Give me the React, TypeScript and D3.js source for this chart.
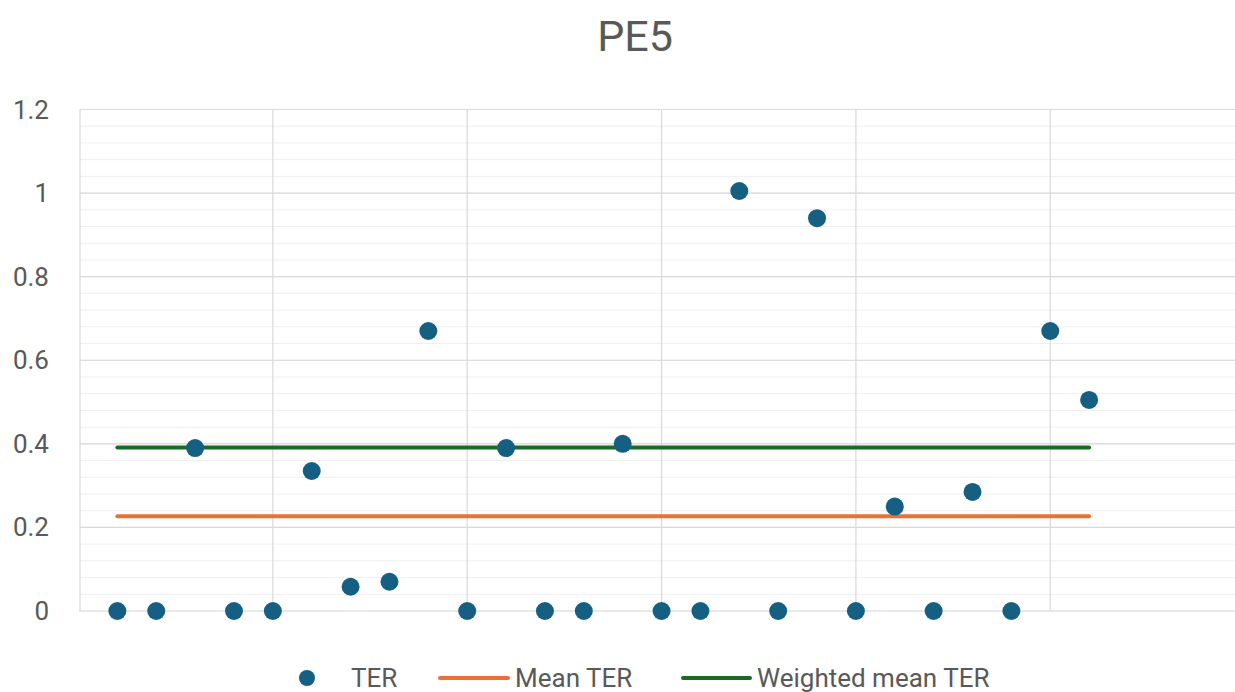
import React from "react";
import * as d3 from "d3";

const xValues = [1, 2, 3, 4, 5, 6, 7, 8, 9, 10, 11, 12, 13, 14, 15, 16, 17, 18, 19, 20, 21, 22, 23, 24, 25, 26];
const terValues = [0, 0, 0.39, 0, 0, 0.335, 0.058, 0.07, 0.67, 0, 0.39, 0, 0, 0.4, 0, 0, 1.005, 0, 0.94, 0, 0.25, 0, 0.285, 0, 0.67, 0.505];
const meanTER = 0.227;
const weightedMeanTER = 0.391;
const yTicks = [0, 0.2, 0.4, 0.6, 0.8, 1, 1.2];
const xGridTicks = [5, 10, 15, 20, 25, 30];
const legendLabels = ["TER", "Mean TER", "Weighted mean TER"];

const W = 1235;
const H = 692;
const FONT = "Roboto, 'Open Sans', sans-serif";
const C_DOT = "#156082";
const C_MEAN = "#E97132";
const C_WMEAN = "#196B24";
const C_TEXT = "#595959";

export default function App() {
  const left = 78.5;
  const top = 109.5;
  const bottom = 611;
  const x = d3.scaleLinear().domain([0, 30]).range([left, left + 30 * 38.87]);
  const y = d3.scaleLinear().domain([0, 1.2]).range([bottom, top]);
  const minorTicks = d3.range(0, 1.2001, 0.04);
  const lineGen = d3.line<[number, number]>().x((d) => x(d[0])).y((d) => y(d[1]));
  const x0 = xValues[0];
  const x1 = xValues[xValues.length - 1];

  return (
    <svg width={W} height={H} style={{ position: "absolute", left: 0, top: 0, display: "block", background: "#fff" }}>
      <text x={635} y={51} textAnchor="middle" fontFamily={FONT} fontSize={43} fill={C_TEXT}>PE5</text>
      {/* minor gridlines */}
      {minorTicks.map((t, i) => (
        <line key={"mn" + i} x1={left + 1} x2={x(30)} y1={y(t)} y2={y(t)} stroke="#efefef" strokeWidth={1} />
      ))}
      {/* major horizontal */}
      {yTicks.map((t) => (
        <line key={"mj" + t} x1={left + 1} x2={x(30)} y1={y(t)} y2={y(t)} stroke="#d9d9d9" strokeWidth={1.2} />
      ))}
      {/* vertical gridlines */}
      {xGridTicks.map((t) => (
        <line key={"vx" + t} x1={x(t)} x2={x(t)} y1={top} y2={bottom} stroke="#d9d9d9" strokeWidth={1.2} />
      ))}
      <line x1={left + 1.5} x2={left + 1.5} y1={top} y2={bottom} stroke="#d9d9d9" strokeWidth={1.2} />
      {yTicks.map((t) => (
        <text key={"yl" + t} x={49} y={y(t) + 9} textAnchor="end" fontFamily={FONT} fontSize={26} fill={C_TEXT}>
          {String(t)}
        </text>
      ))}
      <path d={lineGen([[x0, meanTER], [x1, meanTER]]) || ""} stroke={C_MEAN} strokeWidth={4} strokeLinecap="round" fill="none" />
      <path d={lineGen([[x0, weightedMeanTER], [x1, weightedMeanTER]]) || ""} stroke={C_WMEAN} strokeWidth={4} strokeLinecap="round" fill="none" />
      {xValues.map((xv, i) => (
        <circle key={"p" + i} cx={x(xv)} cy={y(terValues[i])} r={9} fill={C_DOT} />
      ))}
      {/* legend */}
      <g fontFamily={FONT} fontSize={26} fill={C_TEXT}>
        <circle cx={307} cy={678} r={8} fill={C_DOT} />
        <text x={351} y={687}>{legendLabels[0]}</text>
        <line x1={440} x2={508} y1={678} y2={678} stroke={C_MEAN} strokeWidth={4} strokeLinecap="round" />
        <text x={515} y={687}>{legendLabels[1]}</text>
        <line x1={683} x2={750} y1={678} y2={678} stroke={C_WMEAN} strokeWidth={4} strokeLinecap="round" />
        <text x={757} y={687}>{legendLabels[2]}</text>
      </g>
    </svg>
  );
}
